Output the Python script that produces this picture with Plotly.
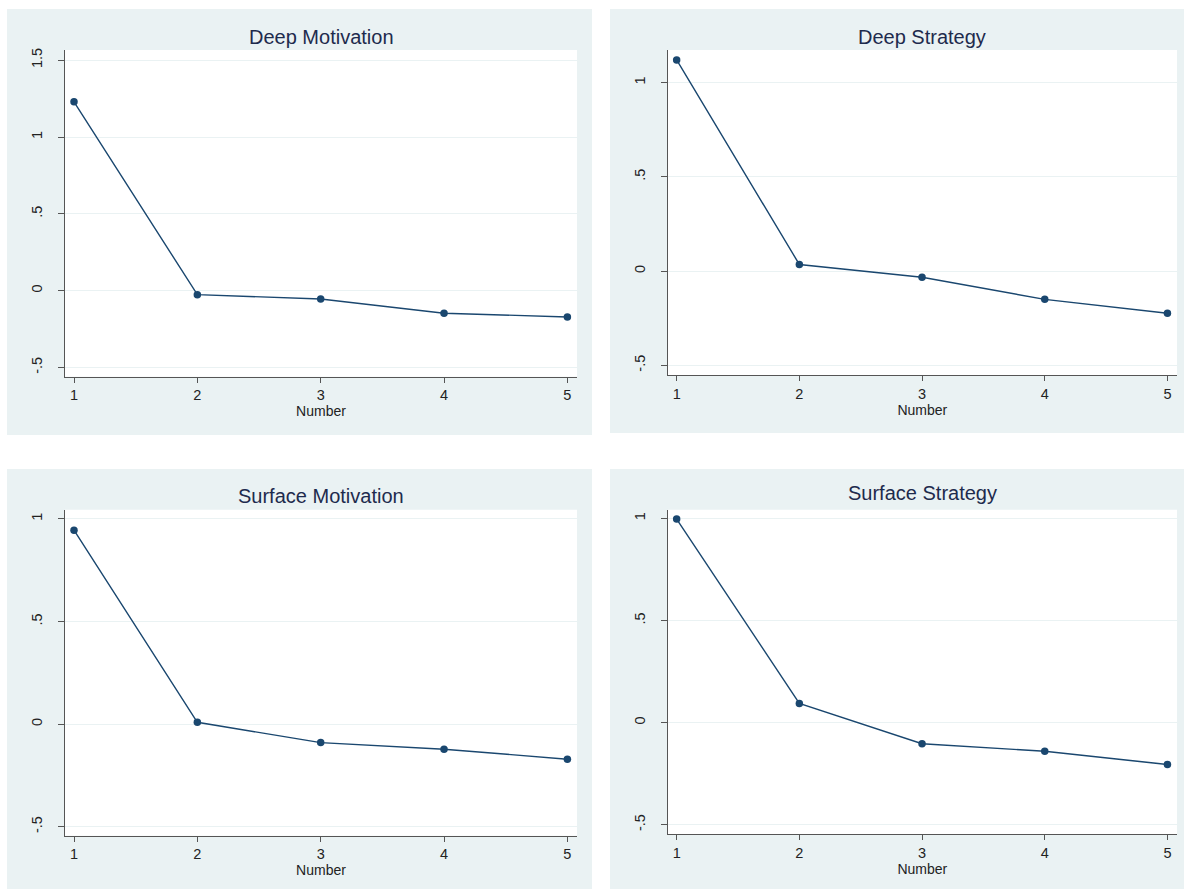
import plotly.graph_objects as go

W, H = 1186, 889

numbers = [1, 2, 3, 4, 5]
titles = ["Deep Motivation", "Deep Strategy", "Surface Motivation", "Surface Strategy"]
deep_motivation = [1.229, -0.026, -0.054, -0.147, -0.171]
deep_strategy = [1.12, 0.035, -0.033, -0.15, -0.224]
surface_motivation = [0.945, 0.009, -0.09, -0.122, -0.171]
surface_strategy = [0.997, 0.094, -0.103, -0.140, -0.205]
series = [deep_motivation, deep_strategy, surface_motivation, surface_strategy]

ytick_vals = [
    [-0.5, 0, 0.5, 1, 1.5],
    [-0.5, 0, 0.5, 1],
    [-0.5, 0, 0.5, 1],
    [-0.5, 0, 0.5, 1],
]
ytick_text = {-0.5: "-.5", 0: "0", 0.5: ".5", 1: "1", 1.5: "1.5"}
yranges = [[-0.561, 1.567], [-0.552, 1.173], [-0.544, 1.044], [-0.547, 1.042]]

# pixel boxes
bg_px = [(7, 7, 592, 434), (610, 7, 1184, 432), (7, 468, 592, 889), (610, 468, 1184, 889)]
plot_px = [(65, 48, 577, 375.7), (667.7, 48, 1177, 374), (65, 509, 577, 835.7), (667.7, 509, 1177, 834.3)]
title_y_px = [35, 35, 495, 492]

LINE = "#1a476f"
BG = "#eaf2f3"
AX = "#555555"
FONT = "Arial, Liberation Sans, sans-serif"

fig = go.Figure()
layout = dict(
    width=W, height=H,
    margin=dict(l=0, r=0, t=0, b=0),
    paper_bgcolor="white",
    plot_bgcolor="white",
    showlegend=False,
    font=dict(family=FONT, size=14, color="#222222"),
    shapes=[], annotations=[],
)

for i in range(4):
    sfx = "" if i == 0 else str(i + 1)
    fig.add_trace(go.Scatter(
        x=numbers, y=series[i], mode="lines+markers",
        line=dict(color=LINE, width=1.4),
        marker=dict(color=LINE, size=7.5),
        xaxis="x" + sfx, yaxis="y" + sfx,
    ))
    px0, py0, px1, py1 = plot_px[i]
    xd = [px0 / W, px1 / W]
    yd = [1 - py1 / H, 1 - py0 / H]
    layout["xaxis" + sfx] = dict(
        domain=xd, anchor="y" + sfx, range=[0.927, 5.078],
        tickvals=numbers, ticktext=[str(n) for n in numbers],
        showgrid=False, zeroline=False,
        showline=True, linecolor=AX, linewidth=1,
        ticks="outside", ticklen=5, tickcolor=AX,
        tickfont=dict(size=14.5, color="#222222"),
        title=dict(text="Number", font=dict(size=14, color="#222222"), standoff=2),
    )
    layout["yaxis" + sfx] = dict(
        domain=yd, anchor="x" + sfx, range=yranges[i],
        tickvals=ytick_vals[i], ticktext=[ytick_text[v] for v in ytick_vals[i]],
        tickangle=-90,
        showgrid=True, gridcolor=BG, gridwidth=1, zeroline=False,
        showline=True, linecolor=AX, linewidth=1,
        ticks="outside", ticklen=6, tickcolor=AX,
        tickfont=dict(size=14.5, color="#222222"),
        ticklabelstandoff=10,
    )
    bx0, by0, bx1, by1 = bg_px[i]
    layout["shapes"].append(dict(
        type="rect", xref="paper", yref="paper",
        x0=bx0 / W, x1=bx1 / W, y0=1 - by1 / H, y1=1 - by0 / H,
        fillcolor=BG, line=dict(width=0), layer="below",
    ))
    layout["shapes"].append(dict(
        type="rect", xref="paper", yref="paper",
        x0=xd[0], x1=xd[1], y0=yd[0], y1=yd[1],
        fillcolor="white", line=dict(width=0), layer="below",
    ))
    layout["annotations"].append(dict(
        text=titles[i], xref="paper", yref="paper",
        x=(xd[0] + xd[1]) / 2, y=1 - title_y_px[i] / H,
        xanchor="center", yanchor="middle", showarrow=False,
        font=dict(family=FONT, size=20, color="#1e2b4d"),
    ))

fig.update_layout(**layout)
fig.write_html(
    "out.html",
    config={"displayModeBar": False},
    post_script="document.body.style.margin='0';document.body.style.overflow='hidden';",
)
